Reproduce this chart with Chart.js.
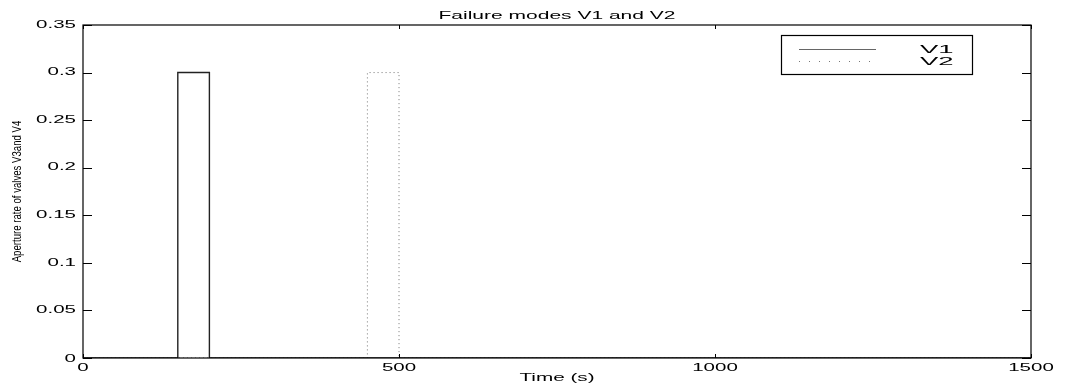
<!DOCTYPE html>
<html>
<head>
<meta charset="utf-8">
<script src="https://cdn.jsdelivr.net/npm/chart.js@4.4.1/dist/chart.umd.min.js"></script>
<style>
  html, body { margin: 0; padding: 0; background: #fff; }
  #wrap { width: 1066px; height: 391px; }
</style>
</head>
<body>
<div id="wrap"><canvas id="myChart" width="1066" height="391"></canvas></div>
<script>
// values
const timeV1 = [0, 150, 150, 200, 200, 1500];
const rateV1 = [0, 0, 0.3, 0.3, 0, 0];
const timeV2 = [0, 450, 450, 500, 500, 1500];
const rateV2 = [0, 0, 0.3, 0.3, 0, 0];

const xTicks = [0, 500, 1000, 1500];
const xTickLabels = ['0', '500', '1000', '1500'];
const yTicks = [0, 0.05, 0.1, 0.15, 0.2, 0.25, 0.3, 0.35];
const yTickLabels = ['0', '0.05', '0.1', '0.15', '0.2', '0.25', '0.3', '0.35'];

const chartTitle = 'Failure modes V1 and V2';
const xTitle = 'Time (s)';
const yTitle = 'Aperture rate of valves V3and V4';

const FONT = "'Liberation Sans', Arial, Helvetica, sans-serif";

const toPoints = (xs, ys) => xs.map((x, i) => ({ x: x, y: ys[i] }));

// text in the reference is stretched sideways, so draw it scaled
function wideText(ctx, txt, x, y, align, sx) {
  ctx.save();
  ctx.translate(x, y);
  ctx.scale(sx, 1);
  ctx.textAlign = align;
  ctx.fillText(txt, 0, 0);
  ctx.restore();
}

const matlabAxes = {
  id: 'matlabAxes',
  afterDraw(chart) {
    const ctx = chart.ctx;
    const a = chart.chartArea;
    const xs = chart.scales.x, ys = chart.scales.y;
    ctx.save();
    ctx.strokeStyle = '#000';
    ctx.fillStyle = '#000';
    ctx.lineWidth = 1.2;
    ctx.strokeRect(a.left, a.top, a.right - a.left, a.bottom - a.top);

    // inward ticks
    ctx.lineWidth = 1;
    ctx.beginPath();
    yTicks.forEach(v => {
      const p = Math.round(ys.getPixelForValue(v)) + 0.5;
      ctx.moveTo(a.left, p); ctx.lineTo(a.left + 9, p);
      ctx.moveTo(a.right, p); ctx.lineTo(a.right - 9, p);
    });
    xTicks.forEach(v => {
      const p = Math.round(xs.getPixelForValue(v)) + 0.5;
      ctx.moveTo(p, a.bottom); ctx.lineTo(p, a.bottom - 4);
      ctx.moveTo(p, a.top); ctx.lineTo(p, a.top + 4);
    });
    ctx.stroke();

    // tick labels
    ctx.font = '10px ' + FONT;
    ctx.textBaseline = 'middle';
    yTicks.forEach((v, i) => {
      wideText(ctx, yTickLabels[i], 76, ys.getPixelForValue(v) + (v === 0 ? 1 : 0), 'right', 2.05);
    });
    ctx.textBaseline = 'alphabetic';
    xTicks.forEach((v, i) => {
      wideText(ctx, xTickLabels[i], xs.getPixelForValue(v), 371, 'center', 2.05);
    });

    // titles
    wideText(ctx, chartTitle, (a.left + a.right) / 2, 18.5, 'center', 2.1);
    wideText(ctx, xTitle, (a.left + a.right) / 2, 381, 'center', 2.07);

    // y title: tall, squeezed glyphs along the text
    ctx.save();
    ctx.translate(17, (a.top + a.bottom) / 2);
    ctx.rotate(-Math.PI / 2);
    ctx.scale(0.74, 1);
    ctx.font = '13px ' + FONT;
    ctx.textAlign = 'center';
    ctx.textBaseline = 'middle';
    ctx.fillText(yTitle, 0, 0);
    ctx.restore();

    // legend box
    const lx = 781, ly = 35, lw = 191, lh = 39;
    ctx.fillStyle = '#fff';
    ctx.fillRect(lx, ly, lw, lh);
    ctx.strokeStyle = '#000';
    ctx.lineWidth = 1.2;
    ctx.strokeRect(lx + 0.5, ly + 0.5, lw, lh);
    const legendDash = [[], [1, 9]];
    chart.data.datasets.forEach((ds, i) => {
      const yy = 49.5 + i * 12;
      ctx.strokeStyle = i === 0 ? '#666' : ds.borderColor;
      ctx.lineWidth = 1;
      ctx.setLineDash(legendDash[i]);
      ctx.beginPath();
      ctx.moveTo(799, yy); ctx.lineTo(876, yy);
      ctx.stroke();
      ctx.setLineDash([]);
      ctx.fillStyle = '#000';
      ctx.font = '11px ' + FONT;
      ctx.textBaseline = 'alphabetic';
      wideText(ctx, ds.label, 920, 53 + i * 12, 'left', 2.5);
    });
    ctx.restore();
  }
};

new Chart(document.getElementById('myChart').getContext('2d'), {
  type: 'line',
  data: {
    datasets: [
      {
        label: 'V1',
        data: toPoints(timeV1, rateV1),
        borderColor: '#222',
        borderWidth: 1.4,
        pointRadius: 0,
        tension: 0
      },
      {
        label: 'V2',
        data: toPoints(timeV2, rateV2),
        borderColor: '#777',
        borderWidth: 1,
        borderDash: [1, 3],
        pointRadius: 0,
        tension: 0
      }
    ]
  },
  options: {
    responsive: false,
    animation: false,
    layout: { padding: { top: 25, right: 35, left: 0, bottom: 0 } },
    plugins: {
      legend: { display: false },
      title: { display: false },
      tooltip: { enabled: false }
    },
    scales: {
      x: {
        type: 'linear',
        min: 0,
        max: 1500,
        ticks: { display: false, stepSize: 500 },
        grid: { display: false },
        border: { display: false },
        afterFit: s => { s.height = 33; }
      },
      y: {
        min: 0,
        max: 0.35,
        ticks: { display: false, stepSize: 0.05 },
        grid: { display: false },
        border: { display: false },
        afterFit: s => { s.width = 83; }
      }
    }
  },
  plugins: [matlabAxes]
});
</script>
</body>
</html>
